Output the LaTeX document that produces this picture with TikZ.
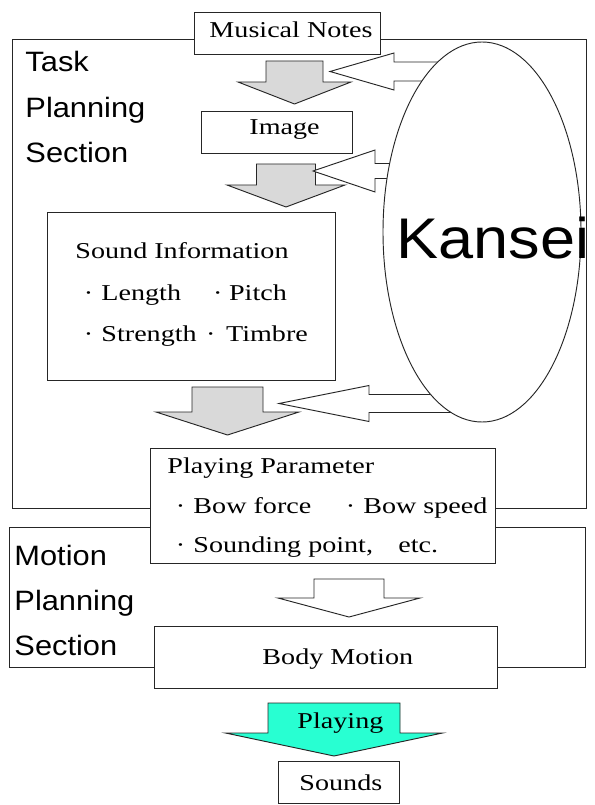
\documentclass[tikz,border=0pt]{standalone}
\usepackage{fontspec}
\setmainfont{Liberation Serif}[FakeStretch=1.24]
\newfontfamily\secfont{Liberation Sans}[FakeStretch=1.1]
\usepackage{tikz}
\usetikzlibrary{shapes.geometric}
\definecolor{arrowgray}{RGB}{217,217,217}
\definecolor{playcyan}{RGB}{40,255,210}
\newcommand{\pdot}{\makebox[19.5pt]{·}}
% down block arrow: style, cx, shaft half, top, head y, head half, tip y
\newcommand{\downblock}[7]{%
  \draw[#1] ({#2-#3},#4) -- ({#2+#3},#4) -- ({#2+#3},#5) -- ({#2+#6},#5)
    -- (#2,#7) -- ({#2-#6},#5) -- ({#2-#3},#5) -- cycle;}
% left block arrow: style, tip x, cy, head back x, head half, shaft half, end x
\newcommand{\leftblock}[7]{%
  \draw[#1] (#2,#3) -- (#4,{#3-#5}) -- (#4,{#3-#6}) -- (#7,{#3-#6})
    -- (#7,{#3+#6}) -- (#4,{#3+#6}) -- (#4,{#3+#5}) -- cycle;}

\begin{document}
\begin{tikzpicture}[x=0.75pt, y=-0.75pt, line width=0.7pt,
  box/.style={draw=black!85, fill=white, minimum height=31.5pt, inner sep=0pt},
  txt/.style={font=\fontsize{17}{20}\selectfont, inner sep=0pt, anchor=base west},
  sec/.style={font=\secfont\fontsize{21}{25}\selectfont, inner sep=0pt, anchor=base west},
  grayarrow/.style={draw=black!85, fill=arrowgray},
  whitearrow/.style={draw=black!85, fill=white},
  playarrow/.style={draw=black!85, fill=playcyan}]

  \path[use as bounding box, fill=white] (0,0) rectangle (594,805);

  % section frames
  \draw[black!85] (12,39) rectangle (586,508);
  \draw[black!85] (9,527) rectangle (585,667);

  % boxes
  \node[box, minimum width=139.5pt] (notes) at (287,33) {};
  \node[box, minimum width=113.25pt] (image) at (276.5,132) {};
  \node[box, minimum width=216pt, minimum height=126pt] (sinfo) at (191,296) {};
  \node[box, minimum width=258.75pt, minimum height=86.25pt] (param) at (322.5,505.5) {};
  \node[box, minimum width=257.25pt, minimum height=46.5pt] (body) at (325.5,657) {};
  \node[box, minimum width=90.75pt] (sounds) at (338.5,782) {};

  % flow arrows
  \downblock{grayarrow}{294.5}{28.5}{61}{82}{56.5}{104}
  \downblock{grayarrow}{286}{29.5}{164}{185}{59}{207}
  \downblock{grayarrow}{227.5}{35.5}{387}{412}{71.5}{435}

  % feedback from Kansei
  \leftblock{whitearrow}{330}{71.5}{394}{18.5}{9.5}{470}
  \leftblock{whitearrow}{313}{171}{375}{21}{7.5}{460}
  \leftblock{whitearrow}{279}{403.5}{369}{18}{9}{470}

  \node[draw=black!85, fill=white, ellipse, inner sep=0pt,
        minimum width=148.5pt, minimum height=285pt] (kansei) at (482,232) {};

  \downblock{whitearrow}{349}{35}{579}{598}{71}{617}
  \downblock{playarrow}{334}{66}{703}{733}{108.5}{756}

  % texts
  \node[txt] (notes-t) at (209,38) {Musical Notes};
  \node[txt] (image-t) at (249,135) {Image};
  \node[txt] (sinfo-t1) at (75,258) {Sound Information};
  \node[txt] (sinfo-t2) at (75,300) {\pdot Length\hspace{24pt}·\hspace{5pt}Pitch};
  \node[txt] (sinfo-t3) at (75,341) {\pdot Strength\hspace{7pt}·\hspace{8pt}Timbre};
  \node[txt] (param-t1) at (167,473) {Playing Parameter};
  \node[txt] (param-t2) at (167,513) {\pdot Bow force\hspace{26pt}·\hspace{6pt}Bow speed};
  \node[txt] (param-t3) at (167,552) {\pdot Sounding point,\hspace{19pt}etc.};
  \node[txt] (body-t) at (262,664) {Body Motion};
  \node[txt] (play-t) at (297,728) {Playing};
  \node[txt] (sounds-t) at (299,790) {Sounds};

  \foreach \w [count=\i from 0] in {Task,Planning,Section}
    \node[sec] (task-\w) at (25,{72+45.5*\i}) {\w};
  \foreach \w [count=\i from 0] in {Motion,Planning,Section}
    \node[sec] (motion-\w) at (14,{565+45*\i}) {\w};

  \node[sec, font=\secfont\fontsize{43}{50}\selectfont] (kansei-t) at (396,258) {Kansei};
\end{tikzpicture}
\end{document}
